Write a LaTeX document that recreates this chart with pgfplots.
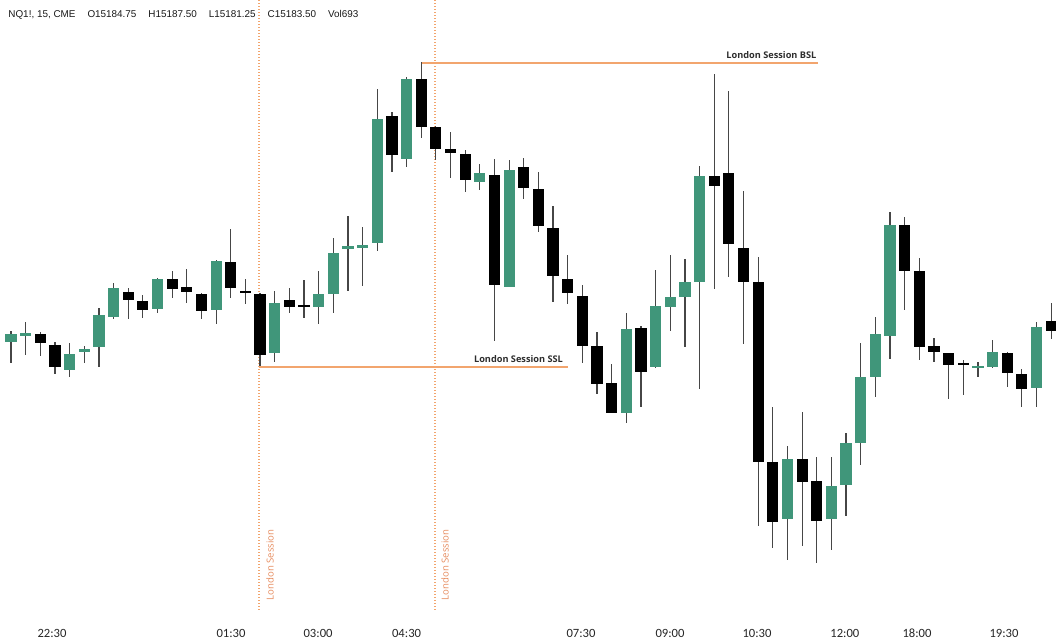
\documentclass[border=0pt]{standalone}
\usepackage{pgfplots}
\pgfplotsset{compat=1.18}
\usepackage{pgfplotstable}
\usepackage{fontspec}
\setmainfont{Liberation Sans}
\newfontfamily\tickfont{Carlito}
\newfontfamily\labfont{Open Sans}

\definecolor{bull}{RGB}{64,150,122}
\definecolor{wick}{RGB}{70,70,70}
\definecolor{sess}{RGB}{242,165,110}
\definecolor{sesstxt}{RGB}{230,140,95}
\definecolor{labtxt}{RGB}{45,45,45}

% 15m candles, prices as screen height (y down), i = bar number
\pgfplotstableread{
i  o   h   l   c
0  342 331 363 334
1  336 322 355 333
2  334 332 356 343
3  345 342 374 367
4  370 343 377 354
5  352 346 363 349
6  347 308 367 315
7  317 283 319 288
8  292 288 319 300
9  301 295 318 310
10 309 278 313 279
11 279 271 298 289
12 287 269 303 292
13 294 293 319 311
14 310 260 324 261
15 262 229 298 288
16 291 279 304 293
17 294 293 366 355
18 353 291 362 303
19 300 288 313 307
20 305 280 318 307
21 307 271 324 294
22 294 238 313 253
23 249 216 291 246
24 248 227 286 245
25 243 89  251 119
26 116 112 172 155
27 159 77  167 79
28 79  62  138 127
29 127 126 160 149
30 149 132 178 153
31 154 150 192 180
32 182 164 190 173
33 175 159 341 285
34 287 160 287 170
35 167 158 199 188
36 189 172 232 226
37 228 206 302 276
38 279 255 304 293
39 296 285 363 346
40 346 332 394 384
41 383 364 413 413
42 413 313 423 329
43 328 326 407 372
44 367 270 368 306
45 307 255 331 297
46 297 259 347 282
47 282 166 389 176
48 176 74  289 186
49 173 91  277 244
50 248 191 344 282
51 282 257 526 462
52 462 407 548 522
53 519 446 560 459
54 459 412 546 482
55 481 457 563 521
56 519 457 550 486
57 485 433 516 443
58 443 343 465 377
59 377 317 397 334
60 336 212 359 225
61 225 217 310 271
62 271 258 360 347
63 346 338 362 352
64 353 353 399 365
65 363 360 395 365
66 368 362 377 366
67 367 340 368 352
68 353 352 387 373
69 374 369 407 389
70 388 322 407 327
71 321 303 339 331
}\candles

\begin{document}
\begin{tikzpicture}
\begin{axis}[
    scale only axis,
    width=528pt, height=321.5pt,
    xmin=-0.751, xmax=71.331,
    ymin=0, ymax=643,
    y dir=reverse,
    axis line style={draw=none},
    major tick length=0pt,
    ytick=\empty,
    xtick={2.80,15.02,20.96,27.0,38.91,44.98,50.92,56.92,61.84,67.78},
    xticklabels={22:30,01:30,03:00,04:30,07:30,09:00,10:30,12:00,18:00,19:30},
    xticklabel style={anchor=center, yshift=5pt, font=\tickfont\fontsize{6.3}{7}\selectfont, text=black!85},
    clip=true,
]
% session markers
\addplot[sess, line width=0.75pt, dash pattern=on 0.7pt off 0.8pt] coordinates {(16.93,0) (16.93,610)};
\addplot[sess, line width=0.75pt, dash pattern=on 0.7pt off 0.8pt] coordinates {(28.94,0) (28.94,610)};
\addplot[sess, line width=1pt] coordinates {(27.97,62.5) (55.09,62.5)};
\addplot[sess, line width=1pt] coordinates {(16.93,366.5) (38.02,366.5)};

% wicks
\addplot[draw=none, mark=none,
    error bars/.cd, y dir=plus, y explicit, error mark=none,
    error bar style={draw=wick, line width=0.6pt}]
    table[x=i, y=h, y error plus expr={\thisrow{l}-\thisrow{h}}] {\candles};
% up bodies
\addplot[draw=none, mark=none,
    restrict expr to domain={\thisrow{o}-\thisrow{c}}{0.5:1000},
    error bars/.cd, y dir=plus, y explicit, error mark=none,
    error bar style={draw=bull, line width=5.6pt}]
    table[x=i, y=c, y error plus expr={max(\thisrow{o}-\thisrow{c},2)}] {\candles};
% down bodies
\addplot[draw=none, mark=none,
    restrict expr to domain={\thisrow{c}-\thisrow{o}}{0.5:1000},
    error bars/.cd, y dir=plus, y explicit, error mark=none,
    error bar style={draw=black, line width=5.6pt}]
    table[x=i, y=o, y error plus expr={max(\thisrow{c}-\thisrow{o},2)}] {\candles};

\node[anchor=west, text=black!90, font=\fontsize{4.95}{6}\selectfont, inner sep=0pt]
    at (axis cs:-0.205,15) {NQ1!, 15, CME\hspace{6pt}O15184.75\hspace{6pt}H15187.50\hspace{6pt}L15181.25\hspace{6pt}C15183.50\hspace{6pt}Vol693};
\node[anchor=east, text=labtxt, font=\labfont\bfseries\fontsize{4.6}{5}\selectfont, inner sep=0pt]
    at (axis cs:55.0,55) {London Session BSL};
\node[anchor=east, text=labtxt, font=\labfont\bfseries\fontsize{4.6}{5}\selectfont, inner sep=0pt]
    at (axis cs:37.7,359.3) {London Session SSL};
\node[rotate=90, text=sesstxt, font=\labfont\fontsize{4.8}{5}\selectfont, inner sep=0pt]
    at (axis cs:17.68,565) {London Session};
\node[rotate=90, text=sesstxt, font=\labfont\fontsize{4.8}{5}\selectfont, inner sep=0pt]
    at (axis cs:29.62,565) {London Session};
\end{axis}
\pgfresetboundingbox
\path (current axis.south west) rectangle (current axis.north east);
\end{tikzpicture}
\end{document}
